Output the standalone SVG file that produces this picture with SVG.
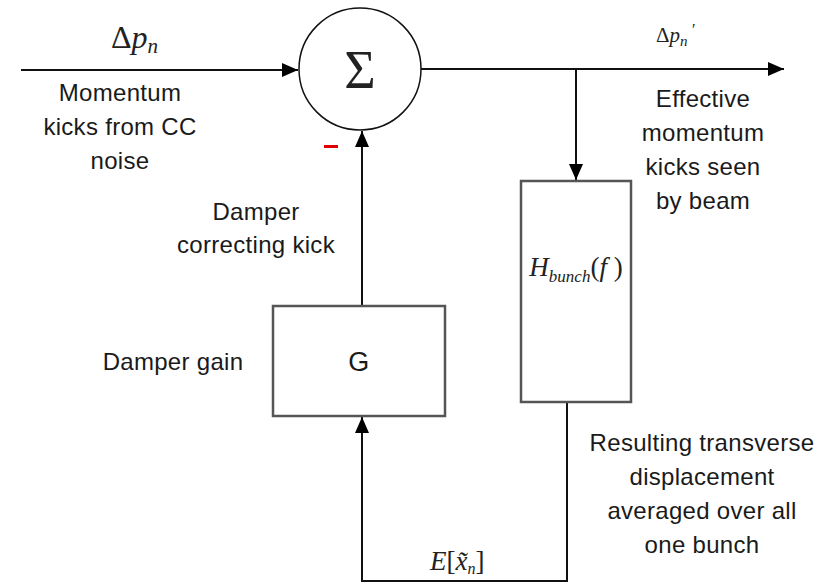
<svg xmlns="http://www.w3.org/2000/svg" width="831" height="586" viewBox="0 0 831 586">
<style>
.ln{stroke:#111;stroke-width:2;fill:none}
.bx{stroke:#555;stroke-width:2.5;fill:#fff}
.t{font-family:"Liberation Sans",Arial,sans-serif;font-size:24px;letter-spacing:0.3px;fill:#1a1a1a;text-anchor:middle}
.m{font-family:"Liberation Serif","Times New Roman",serif;fill:#222}
</style>
<defs>
<marker id="a" viewBox="0 0 16 14" markerWidth="16" markerHeight="14" refX="16" refY="7" orient="auto" markerUnits="userSpaceOnUse">
<path d="M0,0 L16,7 L0,14 z" fill="#000"/>
</marker>
</defs>
<rect width="831" height="586" fill="#fff"/>
<g id="connectors">
<line class="ln" x1="21" y1="70" x2="298" y2="70" marker-end="url(#a)"/>
<line class="ln" x1="421" y1="69" x2="784" y2="69" marker-end="url(#a)"/>
<line class="ln" x1="576" y1="69" x2="576" y2="180" marker-end="url(#a)"/>
<line class="ln" x1="362" y1="306" x2="362" y2="131" marker-end="url(#a)"/>
<polyline class="ln" points="567,403 567,581 362,581 362,417" marker-end="url(#a)"/>
</g>
<g id="sum">
<circle cx="360" cy="69" r="61" fill="#fff" stroke="#111" stroke-width="1.5"/>
<text x="360" y="88" class="m" style="font-size:54px" text-anchor="middle">Σ</text>
<rect x="324" y="145" width="14" height="3" fill="#e00000"/>
</g>
<g id="G">
<rect class="bx" x="273" y="306" width="172" height="110"/>
<text x="359" y="371" class="t" style="font-size:27px">G</text>
</g>
<g id="H">
<rect class="bx" x="521" y="181" width="110" height="221"/>
<text x="576" y="276" class="m" text-anchor="middle"><tspan font-style="italic" font-size="27">H</tspan><tspan font-style="italic" font-size="17" dy="6">bunch</tspan><tspan font-size="27" dy="-6">(</tspan><tspan font-style="italic" font-size="27">f</tspan><tspan font-size="27"> )</tspan></text>
</g>
<g id="labels">
<text x="111" y="48" class="m" font-size="32"><tspan>Δ</tspan><tspan font-style="italic">p</tspan><tspan font-style="italic" font-size="21" dy="5">n</tspan></text>
<text x="656" y="42" class="m" font-size="21"><tspan>Δ</tspan><tspan font-style="italic">p</tspan><tspan font-style="italic" font-size="15" dy="4">n</tspan></text>
<text x="691" y="35" class="m" font-size="16" font-style="italic">′</text>
<text x="430" y="570" class="m" font-size="27"><tspan font-style="italic">E</tspan><tspan>[</tspan><tspan font-style="italic">x̃</tspan><tspan font-style="italic" font-size="16" dy="4">n</tspan><tspan dy="-4">]</tspan></text>
<text class="t"><tspan x="120" y="101">Momentum</tspan><tspan x="120" y="135">kicks from CC</tspan><tspan x="120" y="169">noise</tspan></text>
<text class="t"><tspan x="256" y="220">Damper</tspan><tspan x="256" y="253">correcting kick</tspan></text>
<text class="t" x="173" y="370">Damper gain</text>
<text class="t"><tspan x="703" y="107">Effective</tspan><tspan x="703" y="141">momentum</tspan><tspan x="703" y="175">kicks seen</tspan><tspan x="703" y="209">by beam</tspan></text>
<text class="t"><tspan x="702" y="451">Resulting transverse</tspan><tspan x="702" y="485">displacement</tspan><tspan x="702" y="519">averaged over all</tspan><tspan x="702" y="553">one bunch</tspan></text>
</g>
</svg>
